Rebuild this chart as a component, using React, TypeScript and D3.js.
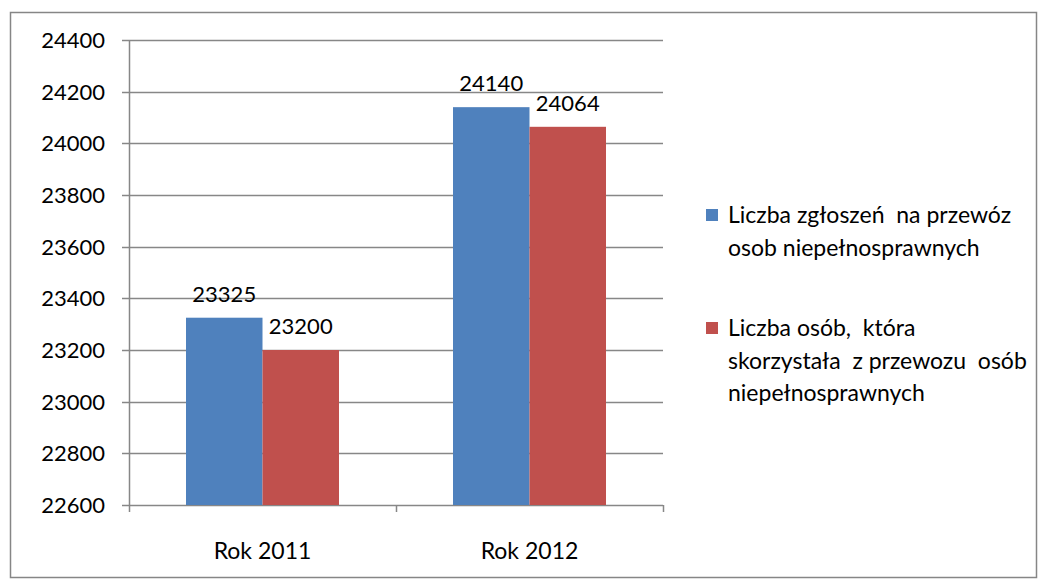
import React from "react";
import * as d3 from "d3";

const categories = ["Rok 2011", "Rok 2012"];
const seriesNames = [
  "Liczba zgłoszeń na przewóz osob niepełnosprawnych",
  "Liczba osób, która skorzystała z przewozu osób niepełnosprawnych",
];
const seriesA = [23325, 24140];
const seriesB = [23200, 24064];
const yTicks = [22600, 22800, 23000, 23200, 23400, 23600, 23800, 24000, 24200, 24400];
const legendLines = [
  ["Liczba zgłoszeń  na przewóz", "osob niepełnosprawnych"],
  ["Liczba osób,  która", "skorzystała  z przewozu  osób", "niepełnosprawnych"],
];
const colors = ["#4F81BD", "#C0504D"];

const W = 1047;
const H = 587;
const FONT = "Lato, 'Open Sans', sans-serif";

export default function App() {
  const left = 129, right = 663, top = 40, bottom = 505;
  const y = d3.scaleLinear().domain([22600, 24400]).range([bottom, top]);
  const x = d3.scaleBand<string>().domain(categories).range([left, right]);
  const xs = d3
    .scaleBand<number>()
    .domain([0, 1])
    .range([57, x.bandwidth() - 57]);
  const series = [seriesA, seriesB];
  const grid = "#878787";

  return (
    <svg
      width={W}
      height={H}
      style={{ position: "absolute", left: 0, top: 0, display: "block", background: "#fff" }}
      fontFamily={FONT}
    >
      <rect x={10.5} y={12.5} width={1026} height={565} fill="#fff" stroke="#868686" strokeWidth={1.5} />
      {yTicks.map((t) => (
        <g key={t}>
          <line x1={left - 7} x2={right} y1={Math.round(y(t)) + 0.5} y2={Math.round(y(t)) + 0.5} stroke={grid} strokeWidth={1.5} />
          <text x={105} y={y(t)} dy="0.36em" textAnchor="end" fontSize={22} fill="#000">
            {t}
          </text>
        </g>
      ))}
      <line x1={left + 0.5} x2={left + 0.5} y1={top} y2={bottom} stroke={grid} strokeWidth={1.5} />
      {[left, left + x.bandwidth(), right].map((tx, i) => (
        <line key={i} x1={tx + 0.5} x2={tx + 0.5} y1={bottom} y2={bottom + 7} stroke={grid} strokeWidth={1.5} />
      ))}
      {categories.map((c, ci) => (
        <g key={c}>
          {series.map((s, si) => {
            const bx = (x(c) as number) + (xs(si) as number);
            const by = y(s[ci]);
            return (
              <g key={si}>
                <rect x={bx} y={by} width={xs.bandwidth()} height={bottom - by} fill={colors[si]} />
                <text
                  x={bx + xs.bandwidth() / 2}
                  y={by - 16}
                  textAnchor="middle"
                  fontSize={22}
                  fill="#000"
                >
                  {s[ci]}
                </text>
              </g>
            );
          })}
          <text
            x={(x(c) as number) + x.bandwidth() / 2}
            y={551}
            dy="0.36em"
            textAnchor="middle"
            fontSize={23}
            fill="#000"
          >
            {c}
          </text>
        </g>
      ))}
      {seriesNames.map((n, i) => {
        const baseY = i === 0 ? 215 : 328;
        return (
          <g key={n}>
            <rect x={706} y={baseY - 6} width={12} height={12} fill={colors[i]} />
            {legendLines[i].map((ln, li) => (
              <text
                key={li}
                x={728}
                y={baseY + li * 32.5}
                dy="0.36em"
                fontSize={23}
                fill="#000"
                style={{ whiteSpace: "pre" }}
              >
                {ln}
              </text>
            ))}
          </g>
        );
      })}
    </svg>
  );
}
